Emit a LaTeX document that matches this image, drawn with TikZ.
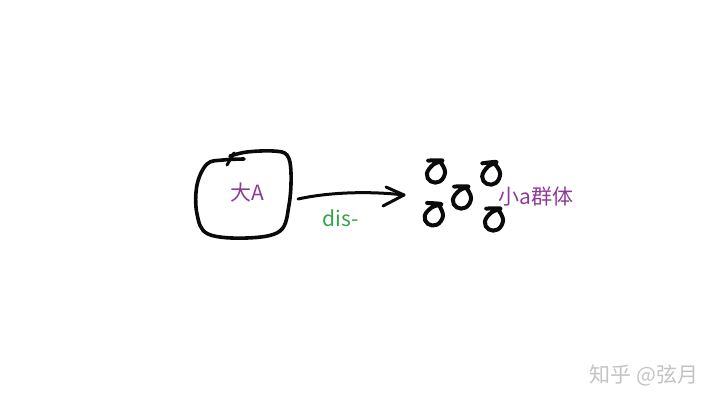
\documentclass[tikz,border=0pt]{standalone}
\usepackage{xcolor}
\usepackage{fontspec}
\newfontfamily\cjk{Noto Sans CJK SC}
\definecolor{inkblack}{RGB}{10, 10, 10}
\definecolor{labelpurple}{RGB}{140, 60, 150}
\definecolor{prefixgreen}{RGB}{50, 165, 70}
\definecolor{markgray}{RGB}{195, 195, 195}
\begin{document}
\begin{tikzpicture}[x=1pt, y=-1pt]
\useasboundingbox (0,0) rectangle (720,405);
\tikzset{
    stroke/.style={inkblack, line width=3pt, line cap=round, line join=round},
    label/.style={font=\cjk\fontsize{21}{24}\selectfont, inner sep=0pt}
}
% big A blob
\draw[stroke, line width=3.6pt] plot[smooth, tension=0.6] coordinates {(244,159) (223,160) (207,164) (197,185) (197,214) (208,234) (247,238) (280,231) (289,205) (291,173) (287,155) (273,151) (247,152) (230,156)};
\draw[stroke] (234,153) -- (227,165);
\node[label, text=labelpurple] (bigA) at (247,193) {大A};
% arrow
\coordinate (arrstart) at (298,199);
\coordinate (arrtip) at (404,195);
\draw[stroke] (arrstart) .. controls (330,192) and (370,191) .. (arrtip);
\draw[stroke] (386,187) -- (arrtip) -- (383,206);
\node[label, text=prefixgreen] (dis) at (341,218) {dis-};
% small a group
\foreach \px/\py/\rot in {436/171/0, 491/173/5, 462/197/0, 434/214/-5, 494/219/0} {
    \begin{scope}[shift={(\px,\py)}, rotate=\rot, scale=1.3]
        \draw[stroke, line width=4pt] plot[smooth, tension=0.7] coordinates {(-6,-8) (5,-8) (-2,-5) (-7,2) (-4,8) (3,8) (7,1) (4,-6)};
    \end{scope}
}
\node[label, text=labelpurple] (smallA) at (536,197) {小a群体};
% watermark
\node[label, text=markgray] (mark) at (644,375) {知乎 @弦月};
\end{tikzpicture}
\end{document}
